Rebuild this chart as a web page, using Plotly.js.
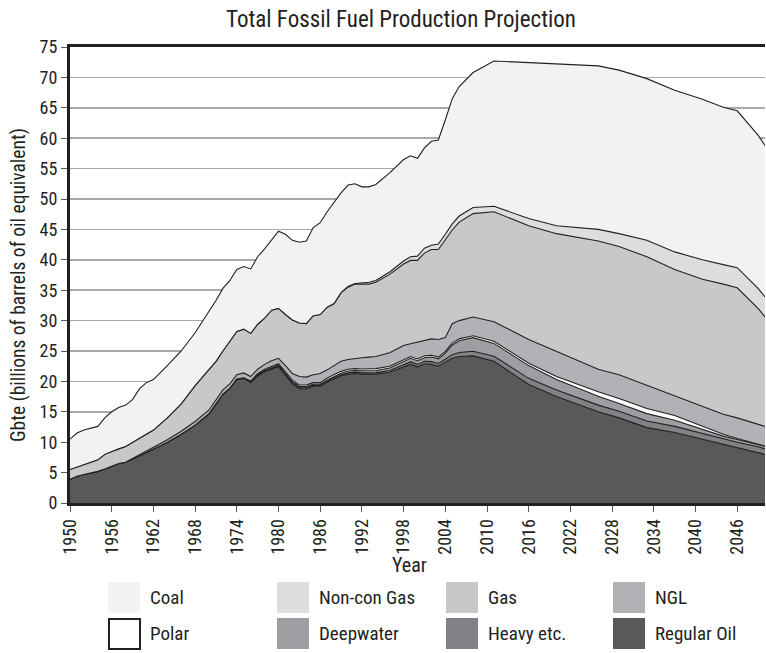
<!DOCTYPE html>
<html>
<head>
<meta charset="utf-8">
<script src="https://cdn.plot.ly/plotly-3.0.1.min.js"></script>
<style>html,body{margin:0;padding:0;background:#fff}#chart{width:766px;height:653px}</style>
</head>
<body>
<div id="chart"></div>
<script>
const years = [1950,1951,1952,1953,1954,1955,1956,1957,1958,1959,1960,1961,1962,1964,1966,1968,
1970,1971,1972,1973,1974,1975,1976,1977,1978,1979,1980,1981,1982,1983,1984,1985,1986,1987,1988,1989,
1990,1991,1992,1993,1994,1996,1998,1999,2000,2001,2002,2003,2004,2005,2006,
2008,2011,2016,2020,2026,2029,2033,2037,2041,2044,2046,2049,2050];

const regularOil = [3.9,4.4,4.7,4.9,5.2,5.6,6.0,6.5,6.7,7.2,7.8,8.3,8.9,10.0,11.3,12.8,
14.6,16.3,17.8,18.8,20.3,20.5,19.8,20.9,21.6,22.0,22.4,21.0,19.6,18.8,18.8,19.2,19.2,19.9,20.4,20.9,
21.2,21.3,21.2,21.2,21.2,21.5,22.3,22.8,22.4,22.9,22.8,22.5,23.2,23.8,24.1,
24.2,23.3,19.5,17.5,15.0,14.0,12.4,11.6,10.5,9.7,9.2,8.4,8.0];

const heavyEtc = [0,0,0,0,0,0,0,0,0,0,0,0,0,0,0,0,
0.1,0.1,0.1,0.1,0.1,0.1,0.1,0.1,0.1,0.1,0.15,0.15,0.15,0.15,0.15,0.15,0.15,0.15,0.15,0.2,
0.2,0.2,0.2,0.25,0.25,0.3,0.35,0.4,0.4,0.4,0.45,0.45,0.45,0.6,0.65,
0.75,0.85,1.0,1.1,1.1,1.1,1.1,1.0,0.9,0.8,0.8,0.85,0.9];

const deepwater = [0,0,0,0,0,0,0,0,0,0,0,0,0,0,0,0,
0,0,0,0,0,0,0.05,0.1,0.1,0.15,0.15,0.15,0.2,0.2,0.2,0.2,0.2,0.2,0.25,0.25,
0.3,0.3,0.35,0.35,0.35,0.4,0.65,0.6,0.6,0.6,0.75,0.75,1.0,1.6,1.95,
2.25,2.1,2.1,1.7,1.45,1.25,1.2,1.0,0.7,0.5,0.45,0.45,0.45];

const polar = [0,0,0,0,0,0,0,0,0,0,0,0,0,0,0,0,
0,0,0,0,0,0,0.1,0.15,0.2,0.2,0.2,0.25,0.25,0.25,0.25,0.25,0.25,0.3,0.3,0.3,
0.3,0.3,0.3,0.3,0.3,0.3,0.3,0.3,0.3,0.3,0.3,0.3,0.3,0.3,0.3,
0.3,0.35,0.4,0.5,0.75,0.85,0.85,0.8,0.6,0.3,0.15,0.05,0];

const ngl = [0,0,0,0,0,0,0,0,0,0.1,0.2,0.3,0.3,0.4,0.5,0.6,
0.6,0.6,0.7,0.7,0.7,0.8,0.75,0.75,0.8,0.95,0.9,1.05,1.1,1.4,1.3,1.3,1.5,1.35,1.5,1.65,
1.6,1.7,1.85,1.9,2.0,2.2,2.3,2.1,2.8,2.6,2.7,2.9,2.25,3.2,3.0,
3.1,3.2,3.9,4.1,3.7,3.9,3.85,3.2,3.2,3.3,3.4,3.25,3.25];

const gas = [1.6,1.5,1.6,1.8,1.9,2.4,2.5,2.4,2.6,2.7,2.7,2.8,2.8,3.6,4.5,5.9,
6.7,6.3,6.4,6.9,7.1,7.2,7.1,7.4,7.6,8.3,8.2,8.4,8.8,8.8,8.8,9.7,9.7,10.3,10.2,11.3,
11.9,12.2,12.1,12.0,12.2,12.9,13.4,13.7,13.4,14.3,14.7,14.8,16.1,15.4,16.2,
17.0,18.1,18.7,19.4,21.1,21.1,21.1,20.8,20.9,21.4,21.4,19.0,18.0];

const nonConGas = [0,0,0,0,0,0,0,0,0,0,0,0,0,0,0,0,
0,0,0,0,0,0,0,0,0,0,0,0,0,0,0,0,0,0,0,0,
0.1,0.1,0.2,0.3,0.3,0.4,0.5,0.6,0.7,0.8,0.7,0.9,0.9,1.0,1.0,
1.0,0.9,1.2,1.3,1.9,2.1,2.7,2.9,3.2,3.2,3.3,3.3,3.3];

const coal = [5.0,5.6,5.7,5.6,5.5,6.0,6.5,6.8,6.8,7.0,8.1,8.4,8.3,8.6,8.7,8.7,
9.4,10.0,10.3,10.1,10.2,10.3,10.6,11.1,11.4,11.6,12.7,13.2,13.1,13.3,13.6,14.5,15.1,15.7,16.7,16.4,
16.7,16.4,15.8,15.7,15.8,16.3,16.7,16.6,16.1,16.5,17.1,17.1,18.8,20.6,21.3,
22.2,23.9,25.6,26.6,26.9,26.9,26.6,26.6,26.4,25.9,25.8,25.2,24.9];

const seriesNames = ['Regular Oil','Heavy etc.','Deepwater','Polar','NGL','Gas','Non-con Gas','Coal'];
const seriesValues = [regularOil, heavyEtc, deepwater, polar, ngl, gas, nonConGas, coal];
const seriesColors = ['#58595b','#808285','#9c9ea1','#ffffff','#b1b2b5','#c7c8ca','#dcddde','#f1f2f2'];

const legendOrder = ['Coal','Non-con Gas','Gas','NGL','Polar','Deepwater','Heavy etc.','Regular Oil'];
const yTickVals = [0,5,10,15,20,25,30,35,40,45,50,55,60,65,70,75];

const FONT = '"Roboto Condensed", Roboto, "Liberation Sans", sans-serif';
const DARK = '#231f20';

const traces = seriesNames.map((n, i) => ({
  type: 'scatter', mode: 'lines', name: n, x: years, y: seriesValues[i],
  stackgroup: 'one', fillcolor: seriesColors[i],
  line: {color: DARK, width: 1.1, shape: 'linear'},
  hoverinfo: 'x+y+name'
}));

// pixel -> paper helpers (plot area: x 70..765, y 47..503)
const L = 70, R = 765, T = 47, B = 503;
const xp = px => (px - L) / (R - L);
const yp = py => (B - py) / (B - T);

const shapes = [], annotations = [];
const colX = [108, 277, 446, 613];
const rowY = [582, 618];
legendOrder.forEach((n, k) => {
  const i = seriesNames.indexOf(n);
  const c = k % 4, r = Math.floor(k / 4);
  const x0 = colX[c], y0 = rowY[r];
  const isPolar = n === 'Polar';
  shapes.push({type: 'rect', xref: 'paper', yref: 'paper',
    x0: xp(x0 + (isPolar ? 1 : 0)), x1: xp(x0 + 32), y0: yp(y0 + 31), y1: yp(y0 + (isPolar ? 1 : 0)),
    fillcolor: seriesColors[i], line: {color: isPolar ? DARK : 'rgba(0,0,0,0)', width: isPolar ? 2 : 0}});
  annotations.push({xref: 'paper', yref: 'paper', x: xp(x0 + 40), y: yp(y0 + 15.5),
    xanchor: 'left', yanchor: 'middle', showarrow: false, text: n,
    font: {family: FONT, size: 19, color: DARK}});
});

annotations.push({xref: 'paper', yref: 'paper', x: xp(18), y: yp(285), textangle: -90,
  xanchor: 'center', yanchor: 'middle', showarrow: false,
  text: 'Gbte (billions of barrels of oil equivalent)', font: {family: FONT, size: 19.5, color: DARK}});
annotations.push({xref: 'paper', yref: 'paper', x: xp(409), y: yp(565),
  xanchor: 'center', yanchor: 'middle', showarrow: false,
  text: 'Year', font: {family: FONT, size: 20, color: DARK}});

const layout = {
  width: 766, height: 653,
  margin: {l: L, r: 766 - R, t: T, b: 653 - B, pad: 0},
  paper_bgcolor: '#ffffff', plot_bgcolor: '#ffffff',
  showlegend: false,
  title: {text: 'Total Fossil Fuel Production Projection', x: 401 / 766, xref: 'container', xanchor: 'center',
    y: 1 - 19 / 653, yref: 'container', yanchor: 'middle',
    font: {family: FONT, size: 23, color: DARK}},
  xaxis: {range: [1950, 2050], tickmode: 'linear', tick0: 1950, dtick: 6, tickangle: -90,
    showgrid: false, zeroline: false, showline: true, linecolor: DARK, linewidth: 3, mirror: true,
    ticks: 'outside', ticklen: 6, tickwidth: 1, tickcolor: '#58595b',
    tickfont: {family: FONT, size: 18, color: DARK}},
  yaxis: {range: [0, 75], tickvals: yTickVals, ticktext: yTickVals.map(String),
    showgrid: true, gridcolor: '#a7a9ac', gridwidth: 1.5, zeroline: false,
    showline: true, linecolor: DARK, linewidth: 3, ticks: 'outside', ticklen: 6, tickwidth: 1, tickcolor: '#58595b',
    tickfont: {family: FONT, size: 18, color: DARK}},
  shapes: shapes, annotations: annotations
};

Plotly.newPlot('chart', traces, layout, {staticPlot: true, displayModeBar: false});
</script>
</body>
</html>
